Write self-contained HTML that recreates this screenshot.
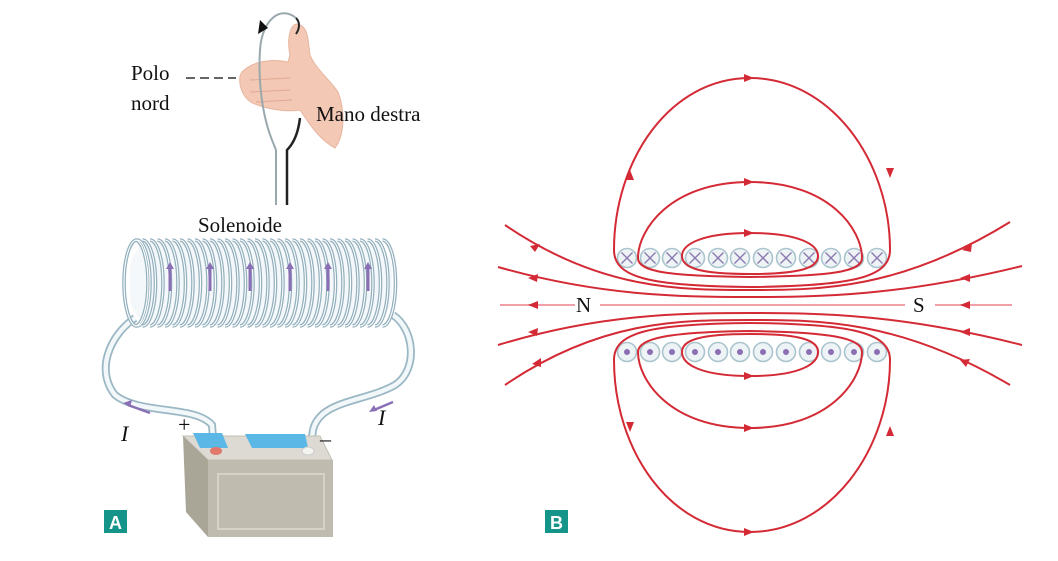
<!DOCTYPE html>
<html><head><meta charset="utf-8"><style>
html,body{margin:0;padding:0;background:#fff}
svg{display:block}
text{font-family:"Liberation Serif",serif;fill:#111}
</style></head><body>
<svg width="1058" height="561" viewBox="0 0 1058 561" xmlns="http://www.w3.org/2000/svg">
<defs>
<g id="cx"><circle r="9.5" fill="#eef4f6" stroke="#a9c4cc" stroke-width="1.6"/><path d="M-5.5,-5.5 L5.5,5.5 M5.5,-5.5 L-5.5,5.5" stroke="#8a78b0" stroke-width="1.4"/></g>
<g id="cd"><circle r="9.5" fill="#eef4f6" stroke="#a9c4cc" stroke-width="1.6"/><circle r="3" fill="#8a6fb5"/></g>
<path id="t" d="M0,-43 A13,43 0 0 1 0,43" fill="none"/>
<g id="coil">
<use href="#t" x="135" y="283"/><use href="#t" x="142.5" y="283"/><use href="#t" x="150" y="283"/><use href="#t" x="157.5" y="283"/><use href="#t" x="165" y="283"/><use href="#t" x="172.5" y="283"/><use href="#t" x="180" y="283"/><use href="#t" x="187.5" y="283"/><use href="#t" x="195" y="283"/><use href="#t" x="202.5" y="283"/><use href="#t" x="210" y="283"/><use href="#t" x="217.5" y="283"/><use href="#t" x="225" y="283"/><use href="#t" x="232.5" y="283"/><use href="#t" x="240" y="283"/><use href="#t" x="247.5" y="283"/><use href="#t" x="255" y="283"/><use href="#t" x="262.5" y="283"/><use href="#t" x="270" y="283"/><use href="#t" x="277.5" y="283"/><use href="#t" x="285" y="283"/><use href="#t" x="292.5" y="283"/><use href="#t" x="300" y="283"/><use href="#t" x="307.5" y="283"/><use href="#t" x="315" y="283"/><use href="#t" x="322.5" y="283"/><use href="#t" x="330" y="283"/><use href="#t" x="337.5" y="283"/><use href="#t" x="345" y="283"/><use href="#t" x="352.5" y="283"/><use href="#t" x="360" y="283"/><use href="#t" x="367.5" y="283"/><use href="#t" x="375" y="283"/><use href="#t" x="382.5" y="283"/>
<ellipse cx="137" cy="283" rx="13" ry="43" fill="none"/>
</g>
</defs>

<!-- ===== Panel A ===== -->
<path d="M300,25 C292,20 286,35 290,55 L288,62 C270,58 252,62 242,72 C236,80 242,100 255,104 C270,110 288,112 300,110 C310,125 320,140 335,148 C345,135 345,110 338,92 C330,80 315,68 310,55 C308,40 308,28 300,25 Z" fill="#f3c9b5" stroke="#e8b49e" stroke-width="1"/>
<path d="M250,80 L290,78 M250,92 L290,90 M256,102 L292,100" stroke="#e3ad97" stroke-width="1.2" fill="none"/>
<path d="M296,18 C280,5 262,20 260,50 C258,80 262,115 272,140 L276,150 L276,205" fill="none" stroke="#9aa8ad" stroke-width="2"/>
<path d="M296,18 C300,22 300,28 296,34" fill="none" stroke="#222" stroke-width="2"/>
<path d="M300,118 C298,135 292,145 287,150 L287,205" fill="none" stroke="#222" stroke-width="2.5"/>
<path d="M260,20 L268,28 L258,34 z" fill="#111"/>
<text x="131" y="80" font-size="21">Polo</text>
<text x="131" y="110" font-size="21">nord</text>
<path d="M186,78 L236,78" stroke="#666" stroke-width="2" stroke-dasharray="9,5"/>
<text x="316" y="121" font-size="21">Mano destra</text>
<text x="198" y="232" font-size="21">Solenoide</text>

<g fill="none">
<path d="M135,318 C110,335 95,370 115,395 C140,415 195,405 212,425 L214,452" stroke="#9ab7c4" stroke-width="8"/>
<path d="M135,318 C110,335 95,370 115,395 C140,415 195,405 212,425 L214,452" stroke="#f2f7f9" stroke-width="4.5"/>
<path d="M393,315 C415,330 418,370 395,385 C365,402 320,400 313,430 L310,452" stroke="#9ab7c4" stroke-width="8"/>
<path d="M393,315 C415,330 418,370 395,385 C365,402 320,400 313,430 L310,452" stroke="#f2f7f9" stroke-width="4.5"/>
</g>
<rect x="130" y="240" width="262" height="86" rx="30" fill="#f4f8fa"/>
<use href="#coil" stroke="#93b0bd" stroke-width="3.6"/>
<use href="#coil" stroke="#ffffff" stroke-width="1.1"/>
<g fill="#8a6fb5">
<path d="M170,262 l-4,7 h2.5 v22 h3 v-22 h2.5z"/><path d="M210,262 l-4,7 h2.5 v22 h3 v-22 h2.5z"/><path d="M250,262 l-4,7 h2.5 v22 h3 v-22 h2.5z"/><path d="M290,262 l-4,7 h2.5 v22 h3 v-22 h2.5z"/><path d="M328,262 l-4,7 h2.5 v22 h3 v-22 h2.5z"/><path d="M368,262 l-4,7 h2.5 v22 h3 v-22 h2.5z"/>
</g>
<polygon points="183,436 320,436 332,460 208,460" fill="#dcdad3" stroke="#c2bfb6"/>
<polygon points="183,436 208,460 208,537 186,512" fill="#a9a597"/>
<rect x="208" y="460" width="125" height="77" fill="#bfbbaf"/>
<rect x="218" y="474" width="106" height="55" fill="none" stroke="#d5d2c8" stroke-width="2"/>
<polygon points="193,433 222,433 228,448 200,448" fill="#5bb8e6"/>
<polygon points="245,434 305,434 308,448 252,448" fill="#5bb8e6"/>
<ellipse cx="216" cy="451" rx="6" ry="4" fill="#e2786c"/>
<ellipse cx="308" cy="451" rx="6" ry="4" fill="#f4f4f0" stroke="#ccc"/>
<path d="M150,413 L128,405" stroke="#8a6fb5" stroke-width="2.5"/><path d="M123,403 l9,-3 l-2,7z" fill="#8a6fb5"/>
<path d="M393,402 L374,410" stroke="#8a6fb5" stroke-width="2.5"/><path d="M369,412 l5,-7 l3,6z" fill="#8a6fb5"/>
<text x="121" y="441" font-size="22" font-style="italic">I</text>
<text x="378" y="425" font-size="22" font-style="italic">I</text>
<text x="178" y="432" font-size="22">+</text>
<text x="320" y="446" font-size="22">–</text>
<rect x="104" y="510" width="23" height="23" fill="#15948a"/>
<text x="115.5" y="529" font-size="18" font-weight="bold" text-anchor="middle" style="font-family:'Liberation Sans',sans-serif;fill:#fff">A</text>

<!-- ===== Panel B ===== -->
<g>
<use href="#cx" x="627" y="258"/><use href="#cx" x="650" y="258"/><use href="#cx" x="672" y="258"/><use href="#cx" x="695" y="258"/><use href="#cx" x="718" y="258"/><use href="#cx" x="740" y="258"/><use href="#cx" x="763" y="258"/><use href="#cx" x="786" y="258"/><use href="#cx" x="809" y="258"/><use href="#cx" x="831" y="258"/><use href="#cx" x="854" y="258"/><use href="#cx" x="877" y="258"/>
<use href="#cd" x="627" y="352"/><use href="#cd" x="650" y="352"/><use href="#cd" x="672" y="352"/><use href="#cd" x="695" y="352"/><use href="#cd" x="718" y="352"/><use href="#cd" x="740" y="352"/><use href="#cd" x="763" y="352"/><use href="#cd" x="786" y="352"/><use href="#cd" x="809" y="352"/><use href="#cd" x="831" y="352"/><use href="#cd" x="854" y="352"/><use href="#cd" x="877" y="352"/>
</g>
<g fill="none" stroke="#d42a35" stroke-width="2">
<path d="M750,233 C800,233 818,245 818,256 C818,268 800,274 750,274 C700,274 682,268 682,256 C682,245 700,233 750,233"/>
<path d="M750,182 C830,182 862,230 862,258 C862,272 830,276 750,277 C670,276 638,272 638,258 C638,230 670,182 750,182"/>
<path d="M750,78 C830,78 890,160 890,250 C890,278 850,286 750,287 C650,286 614,278 614,250 C614,160 670,78 750,78"/>
<path d="M750,376 C800,376 818,364 818,352 C818,340 800,334 750,334 C700,334 682,340 682,352 C682,364 700,376 750,376"/>
<path d="M750,428 C830,428 862,380 862,352 C862,338 830,332 750,331 C670,332 638,338 638,352 C638,380 670,428 750,428"/>
<path d="M750,532 C830,532 890,450 890,360 C890,332 850,324 750,323 C650,324 614,332 614,360 C614,450 670,532 750,532"/>
<path d="M1010,222 C900,290 820,290 750,290 C680,290 600,290 505,225"/>
<path d="M1022,266 C900,296 820,297 750,297 C680,297 600,296 498,267"/>
<path d="M1022,345 C900,314 820,313 750,313 C680,313 600,314 498,345"/>
<path d="M1010,385 C900,320 820,320 750,320 C680,320 600,320 505,385"/>
</g>
<path d="M500,305 H575 M600,305 H905 M935,305 H1012" stroke="#f0a0a6" stroke-width="2"/>
<g fill="#d42a35">
<path d="M744,74 l10,4 l-10,4z"/><path d="M744,178 l10,4 l-10,4z"/><path d="M744,229 l10,4 l-10,4z"/>
<path d="M744,372 l10,4 l-10,4z"/><path d="M744,424 l10,4 l-10,4z"/><path d="M744,528 l10,4 l-10,4z"/>
<path d="M626,180 l4,-10 l4,10z"/><path d="M886,168 l4,10 l4,-10z"/>
<path d="M626,422 l4,10 l4,-10z"/><path d="M886,436 l4,-10 l4,10z"/>
<path d="M530,246 l10,-2 l-5,8z"/><path d="M528,278 l10,-4 l-1,8z"/><path d="M528,305 l10,-4 v8z"/><path d="M528,332 l10,-4 l-1,8z"/><path d="M532,364 l9,-6 l0,9z"/>
<path d="M962,250 l10,-7 l-1,9z"/><path d="M960,278 l10,-4 l0,8z"/><path d="M960,305 l10,-4 v8z"/><path d="M960,332 l10,-4 l0,8z"/><path d="M960,360 l10,-1 l-4,8z"/>
</g>
<text x="576" y="312" font-size="21">N</text>
<text x="913" y="312" font-size="21">S</text>
<rect x="545" y="510" width="23" height="23" fill="#15948a"/>
<text x="556.5" y="529" font-size="18" font-weight="bold" text-anchor="middle" style="font-family:'Liberation Sans',sans-serif;fill:#fff">B</text>
</svg>
</body></html>
